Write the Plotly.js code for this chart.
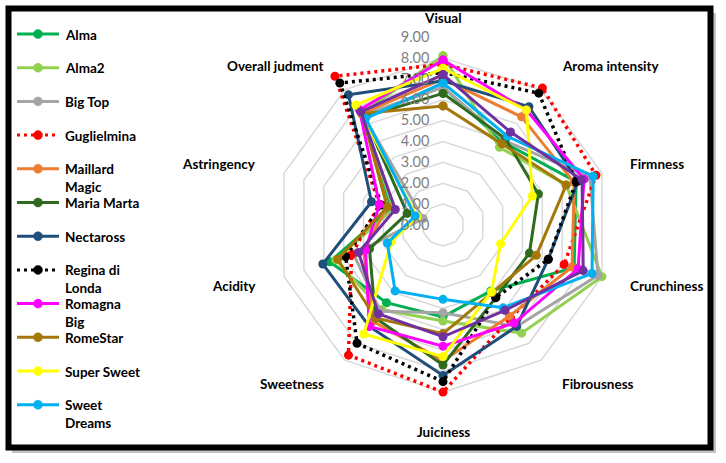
<!DOCTYPE html>
<html>
<head>
<meta charset="utf-8">
<script src="https://cdn.plot.ly/plotly-3.0.1.min.js"></script>
<style>html,body{margin:0;padding:0;background:#fff;}#chart{width:726px;height:463px;}</style>
</head>
<body>
<div id="chart"></div>
<script>
// Attributes (clockwise from top)
const attributes = ["Visual", "Aroma intensity", "Firmness", "Crunchiness", "Fibrousness", "Juiciness", "Sweetness", "Acidity", "Astringency", "Overall judment"];

// Series names (legend order)
const seriesNames = ["Alma", "Alma2", "Big Top", "Guglielmina", "Maillard Magic", "Maria Marta", "Nectaross", "Regina di Londa", "Romagna Big", "RomeStar", "Super Sweet", "Sweet Dreams"];
const legendLabels = ["Alma", "Alma2", "Big Top", "Guglielmina", "Maillard<br>Magic", "Maria Marta", "Nectaross", "Regina di<br>Londa", "Romagna<br>Big", "RomeStar", "Super Sweet", "Sweet<br>Dreams"];

// Values per series, in attribute order
const alma          = [6.6, 4.9, 6.7, 6.6, 3.9, 4.4, 4.6, 5.7, 2.6, 6.5];
const alma2         = [8.1, 4.6, 6.2, 8.0, 6.4, 4.6, 5.0, 5.4, 2.5, 6.6];
const bigTop        = [6.6, 5.0, 7.4, 7.8, 6.0, 4.2, 5.1, 4.5, 1.0, 6.5];
const guglielmina   = [7.7, 8.1, 7.7, 6.1, 5.5, 8.0, 7.7, 4.6, 3.2, 8.8];
const maillardMagic = [7.0, 6.4, 6.6, 6.5, 5.4, 6.5, 5.7, 4.0, 2.8, 6.6];
const mariaMarta    = [6.3, 5.1, 4.8, 4.35, 4.3, 6.7, 5.5, 3.7, 1.8, 6.4];
const nectaross     = [6.9, 7.0, 6.8, 5.3, 6.0, 7.2, 6.0, 6.05, 3.6, 7.7];
const reginaDiLonda = [7.3, 7.8, 6.7, 5.3, 4.3, 7.5, 7.0, 4.9, 3.1, 8.4];
const romagnaBig    = [7.9, 6.8, 7.1, 6.8, 5.8, 5.8, 6.0, 3.9, 3.2, 6.8];
const romeStar      = [5.7, 4.8, 6.2, 4.7, 4.0, 5.2, 5.5, 5.3, 2.8, 6.6];
const superSweet    = [7.5, 6.8, 4.5, 2.9, 3.95, 6.3, 6.45, 2.6, 1.3, 7.1];
const sweetDreams   = [6.8, 5.25, 7.56, 7.5, 4.9, 3.56, 3.9, 2.8, 1.4, 6.3];
const unlabeled     = [7.2, 5.5, 7.0, 7.06, 5.05, 5.35, 5.26, 4.25, 2.4, 6.7];

const seriesValues = [alma, alma2, bigTop, guglielmina, maillardMagic, mariaMarta, nectaross, reginaDiLonda, romagnaBig, romeStar, superSweet, sweetDreams];
const seriesColors = ["#00B050", "#92D050", "#A5A5A5", "#FF0000", "#ED7D31", "#2E6B1E", "#1F4E79", "#000000", "#FF00FF", "#A47708", "#FFFF00", "#00B0F0"];
const seriesDash = ["solid", "solid", "solid", "dot", "solid", "solid", "solid", "dot", "solid", "solid", "solid", "solid"];
const radialTicks = [0, 1, 2, 3, 4, 5, 6, 7, 8, 9];

const W = 726, H = 463;
const CX = 443, CY = 225, R = 188;
const FONT = "Lato, 'Open Sans', 'DejaVu Sans', sans-serif";
const px = x => x / W;
const py = y => 1 - y / H;

function closed(a) { return a.concat([a[0]]); }

const traces = seriesNames.map((n, i) => ({
  type: "scatterpolar",
  name: n,
  r: closed(seriesValues[i]),
  theta: closed(attributes),
  mode: "lines+markers",
  line: {color: seriesColors[i], width: seriesDash[i] === "dot" ? 3.5 : 3, dash: seriesDash[i] === "dot" ? "3px,4px" : "solid"},
  marker: {color: seriesColors[i], size: 9},
  showlegend: false
}));
traces.push({
  type: "scatterpolar",
  name: "",
  r: closed(unlabeled),
  theta: closed(attributes),
  mode: "lines+markers",
  line: {color: "#7030A0", width: 3},
  marker: {color: "#7030A0", size: 9},
  showlegend: false
});

// Frame + custom legend (layout decorations)
const shapes = [
  {type: "rect", xref: "paper", yref: "paper", x0: px(12), x1: px(716), y0: py(13), y1: py(453), line: {width: 0}, fillcolor: "#C4C4C4", layer: "below"},
  {type: "rect", xref: "paper", yref: "paper", x0: px(8.5), x1: px(710.5), y0: py(8.5), y1: py(447.5), line: {width: 0}, fillcolor: "#FFFFFF", layer: "below"},
  {type: "rect", xref: "paper", yref: "paper", x0: px(8.5), x1: px(710.5), y0: py(8.5), y1: py(447.5), line: {width: 6, color: "#000"}, fillcolor: "rgba(0,0,0,0)", layer: "above"}
];
const annotations = [];
const legendTop = 34, legendStep = 33.7;
seriesNames.forEach((n, i) => {
  const y = legendTop + i * legendStep;
  shapes.push({type: "line", xref: "paper", yref: "paper", x0: px(17), x1: px(59), y0: py(y), y1: py(y),
    line: {color: seriesColors[i], width: 3, dash: seriesDash[i] === "dot" ? "3px,4px" : "solid"}});
  shapes.push({type: "circle", xref: "paper", yref: "paper", xsizemode: "pixel", ysizemode: "pixel",
    xanchor: px(38), yanchor: py(y), x0: -4.5, x1: 4.5, y0: -4.5, y1: 4.5,
    fillcolor: seriesColors[i], line: {color: seriesColors[i], width: 0.5}});
  annotations.push({xref: "paper", yref: "paper", x: px(63), y: py(y - 9.5), xanchor: "left", yanchor: "top",
    text: legendLabels[i], showarrow: false, align: "left",
    font: {family: FONT, size: 13.5, color: "#000", weight: "bold"}});
});

// Category labels placed outside each polygon vertex (Excel-style)
attributes.forEach((a, i) => {
  const t = i * 2 * Math.PI / attributes.length;
  const s = Math.sin(t), c = Math.cos(t);
  const vx = CX + R * s, vy = CY - R * c;
  let x, y, xa;
  if (Math.abs(s) < 0.1) { x = vx; y = vy - 19 * Math.sign(c); xa = "center"; }
  else { x = vx + 6 * Math.sign(s); y = vy - 8 * c; xa = s > 0 ? "left" : "right"; }
  annotations.push({xref: "paper", yref: "paper", x: px(x), y: py(y), xanchor: xa, yanchor: "middle",
    text: a, showarrow: false, font: {family: FONT, size: 13.5, color: "#000", weight: "bold"}});
});

const layout = {
  width: W, height: H,
  margin: {l: 0, r: 0, t: 0, b: 0},
  paper_bgcolor: "#fff",
  showlegend: false,
  font: {family: FONT},
  polar: {
    domain: {x: [px(CX - R), px(CX + R)], y: [py(CY + R), py(CY - R)]},
    gridshape: "linear",
    bgcolor: "rgba(0,0,0,0)",
    angularaxis: {
      direction: "clockwise", rotation: 90,
      categoryorder: "array", categoryarray: attributes,
      showgrid: false, showline: false, ticks: "", showticklabels: false
    },
    radialaxis: {
      range: [0, 9], tickvals: radialTicks, tickformat: ".2f",
      angle: 90, tickangle: 90, side: "counterclockwise",
      showline: false, ticks: "outside", ticklen: 8, tickcolor: "rgba(0,0,0,0)",
      gridcolor: "#D9D9D9", gridwidth: 1.5,
      tickfont: {family: FONT, size: 14.5, color: "#7F7F7F"}
    }
  },
  shapes: shapes,
  annotations: annotations
};

Plotly.newPlot("chart", traces, layout, {displayModeBar: false, staticPlot: true});
</script>
</body>
</html>
